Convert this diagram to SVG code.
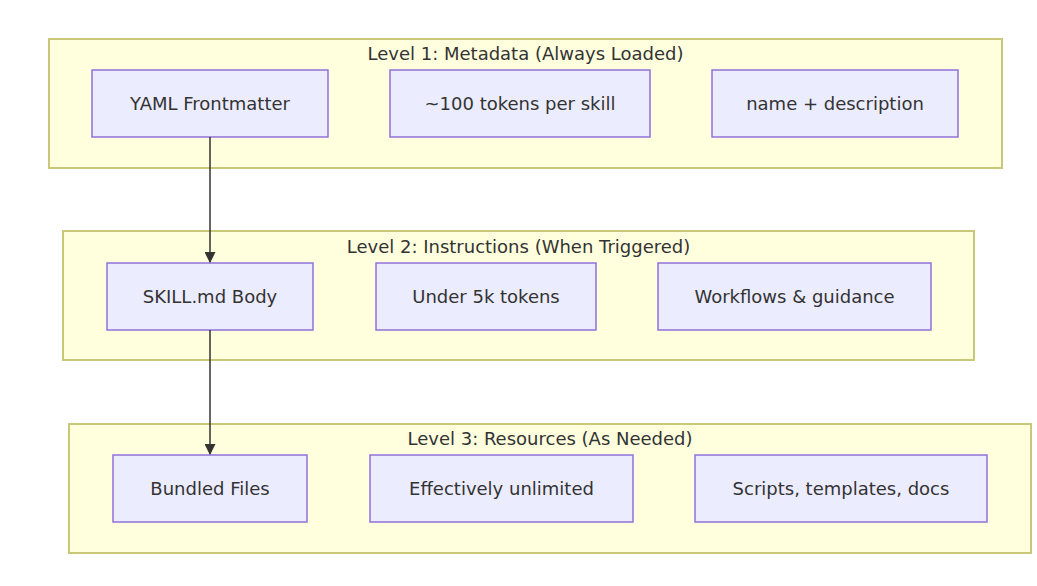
<svg xmlns="http://www.w3.org/2000/svg" width="1037" height="586" viewBox="0 0 1037 586">
<style>
.cluster{fill:#ffffde;stroke:#c8c878;stroke-width:2}
.node rect{fill:#ececff;stroke:#9370db;stroke-width:1.5}
text{font-family:"DejaVu Sans",sans-serif;font-size:18px;fill:#333;text-anchor:middle}
.edge{stroke:#333;stroke-width:1.5;fill:none}
</style>
<defs>
<marker id="arr" viewBox="0 0 10 10" refX="9" refY="5" markerWidth="11" markerHeight="11" markerUnits="userSpaceOnUse" orient="auto">
<path d="M0,0 L10,5 L0,10 z" fill="#333"/>
</marker>
</defs>
<g id="level1">
<rect class="cluster" x="49" y="39" width="953" height="129"/>
<text x="525.5" y="60">Level 1: Metadata (Always Loaded)</text>
</g>
<g id="level2">
<rect class="cluster" x="63" y="231" width="911" height="129"/>
<text x="518.5" y="253">Level 2: Instructions (When Triggered)</text>
</g>
<g id="level3">
<rect class="cluster" x="69" y="424" width="962" height="129"/>
<text x="550" y="445">Level 3: Resources (As Needed)</text>
</g>
<g id="yaml" class="node"><rect x="92" y="70" width="236" height="67"/><text x="210" y="110">YAML Frontmatter</text></g>
<g id="tokens100" class="node"><rect x="390" y="70" width="260" height="67"/><text x="520" y="110">~100 tokens per skill</text></g>
<g id="namedesc" class="node"><rect x="712" y="70" width="246" height="67"/><text x="835" y="110">name + description</text></g>
<g id="skillmd" class="node"><rect x="107" y="263" width="206" height="67"/><text x="210" y="303">SKILL.md Body</text></g>
<g id="under5k" class="node"><rect x="376" y="263" width="220" height="67"/><text x="486" y="303">Under 5k tokens</text></g>
<g id="workflows" class="node"><rect x="658" y="263" width="273" height="67"/><text x="794.5" y="303">Workflows &amp; guidance</text></g>
<g id="bundled" class="node"><rect x="113" y="455" width="194" height="67"/><text x="210" y="495">Bundled Files</text></g>
<g id="unlimited" class="node"><rect x="370" y="455" width="263" height="67"/><text x="501.5" y="495">Effectively unlimited</text></g>
<g id="scripts" class="node"><rect x="695" y="455" width="292" height="67"/><text x="841" y="495">Scripts, templates, docs</text></g>
<g id="connectors">
<path class="edge" d="M210,137 L210,262" marker-end="url(#arr)"/>
<path class="edge" d="M210,330 L210,454" marker-end="url(#arr)"/>
</g>
</svg>
